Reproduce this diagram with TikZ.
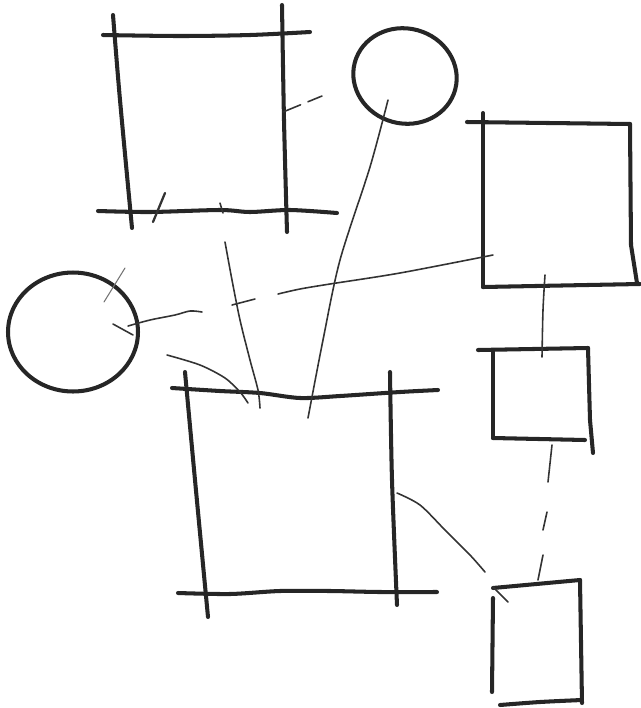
\documentclass[tikz,border=0pt]{standalone}
\usetikzlibrary{shapes.geometric}

\begin{document}
\begin{tikzpicture}[x=0.02cm, y=-0.02cm,
	pen/.style={line width=2.3pt, color=black!85, line cap=round, line join=round},
	thin/.style={line width=0.9pt, color=black!80, line cap=round},
	faint/.style={line width=0.6pt, color=black!55, line cap=round},
	ring/.style={draw, ellipse, line width=2.3pt, color=black!85, inner sep=0pt}]
	
	\useasboundingbox (0,0) rectangle (641,708);
	
	% Circulos
	\node[ring, minimum width=2.08cm, minimum height=1.9cm, rotate=-15] (circ_top) at (405,76) {};
	\node[ring, minimum width=2.6cm, minimum height=2.38cm] (circ_left) at (73,332) {};
	
	% Cuadro arriba a la izquierda
	\draw[pen] plot[smooth] coordinates {(103,35) (180,36) (250,35) (310,32)};
	\draw[pen] plot[smooth] coordinates {(113,15) (120,100) (132,228)};
	\draw[pen] plot[smooth] coordinates {(282,5) (284,120) (287,232)};
	\draw[pen] plot[smooth] coordinates {(98,211) (150,212) (220,210) (250,212) (290,210) (337,213)};
	\draw[thin, line width=1.3pt] (165,193) -- (153,222);
	\draw[thin] (220,203) -- (223,213);
	
	% Rectangulo a la derecha
	\draw[pen] (467,122) -- (630,124);
	\draw[pen] (483,113) -- (483,287);
	\draw[pen] (630,124) -- (631,245) -- (637,283);
	\draw[pen] (483,287) -- (640,284);
	
	% Cuadro pequeno a la derecha
	\draw[pen] (478,350) -- (588,348);
	\draw[pen] (493,350) -- (493,438);
	\draw[pen] (588,348) -- (590,420) -- (593,453);
	\draw[pen] (493,438) -- (585,440);
	
	% Cuadro grande
	\draw[pen] plot[smooth] coordinates {(185,372) (195,480) (208,617)};
	\draw[pen] plot[smooth] coordinates {(390,372) (392,480) (397,605)};
	\draw[pen] plot[smooth] coordinates {(172,388) (220,391) (260,393) (300,398) (340,396) (400,392) (438,390)};
	\draw[pen] plot[smooth] coordinates {(178,593) (230,594) (280,591) (330,591) (380,592) (437,592)};
	
	% Rectangulo abajo
	\draw[pen] (493,588) -- (580,580);
	\draw[pen] (580,580) -- (582,703);
	\draw[pen] (493,598) -- (492,692);
	\draw[pen] plot[smooth] coordinates {(500,705) (540,702) (582,700)};
	
	% Puntos de las conexiones
	\coordinate (tl_e) at (283,112);
	\coordinate (ct_w) at (322,96);
	\coordinate (ct_in) at (388,100);
	\coordinate (big_n) at (308,418);
	\coordinate (cl_e) at (128,326);
	\coordinate (rr_w) at (493,255);
	\coordinate (rr_s) at (545,275);
	\coordinate (rs_n) at (542,357);
	\coordinate (rs_s) at (552,445);
	\coordinate (rb_n) at (538,580);
	\coordinate (big_e) at (397,493);
	\coordinate (rb_w) at (485,572);
	
	% Conexiones
	\draw[thin, dash pattern=on 0.38cm off 0.16cm] (tl_e) -- (ct_w);
	\draw[thin] plot[smooth] coordinates {(ct_in) (370,167) (340,260) (323,340) (big_n)};
	\draw[thin] plot[smooth] coordinates {(cl_e) (150,320) (175,315) (190,311) (202,312)};
	\draw[thin] (232,305) -- (255,299);
	\draw[thin] plot[smooth] coordinates {(278,294) (300,289) (330,284) (400,273) (rr_w)};
	\draw[thin] (113,324) -- (133,335);
	\draw[faint] (104,302) -- (125,268);
	\draw[thin] plot[smooth] coordinates {(rr_s) (543,310) (rs_n)};
	\draw[thin] (rs_s) -- (548,482);
	\draw[thin] (547,512) -- (543,530);
	\draw[thin] (543,555) -- (rb_n);
	\draw[thin] plot[smooth] coordinates {(big_e) (420,505) (445,530) (470,555) (rb_w)};
	\draw[thin] (493,587) -- (508,602);
	\draw[thin] plot[smooth] coordinates {(225,242) (232,280) (240,320) (250,360) (258,390) (260,408)};
	\draw[thin] plot[smooth] coordinates {(167,355) (200,365) (225,378) (240,392) (248,403)};
\end{tikzpicture}
\end{document}
